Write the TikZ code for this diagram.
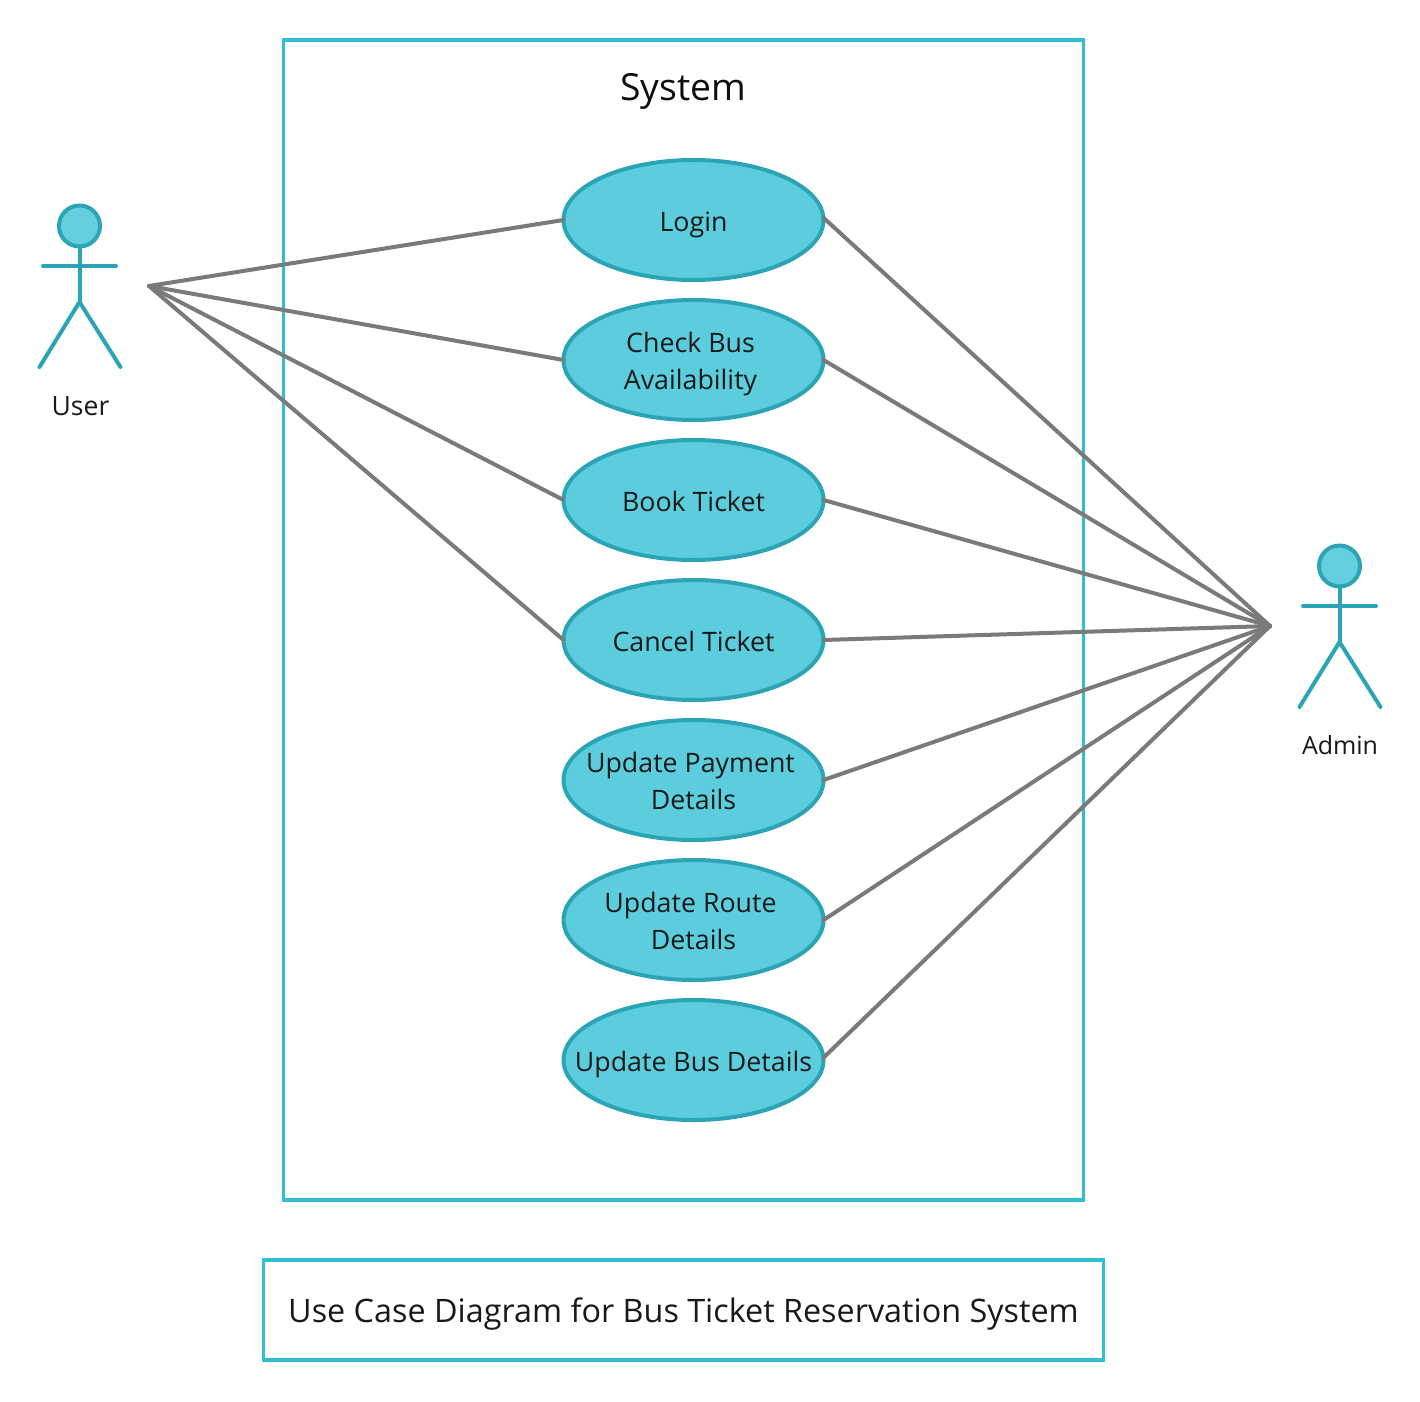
\documentclass[tikz,border=0pt]{standalone}
\usepackage{fontspec}
\setmainfont{Open Sans}
\usetikzlibrary{shapes.geometric}
\definecolor{tealline}{HTML}{2FBFD0}
\definecolor{ufill}{HTML}{5BCDDD}
\definecolor{ustroke}{HTML}{2BA5B5}
\definecolor{conn}{HTML}{7A7A7A}
\newcommand{\uctext}[1]{\makebox[0pt]{\raisebox{-8pt}[0pt][0pt]{\begin{tabular}{@{}c@{}}#1\end{tabular}}}}
\tikzset{x=0.0264583cm,y=-0.0264583cm,
 usecase/.style={ellipse,draw=ustroke,fill=ufill,line width=4*0.0264583cm,outer sep=0pt,minimum width=260*0.0264583cm,minimum height=120*0.0264583cm,inner sep=0pt,font=\fontsize{20.15}{27.75}\selectfont,text=black!90},
 conline/.style={draw=conn,line width=4*0.0264583cm,line cap=round},
 frame/.style={draw=tealline,line width=3.7*0.0264583cm,fill=none,inner sep=0pt,outer sep=0pt},
 actorline/.style={draw=ustroke,line width=4*0.0264583cm,line cap=round},
 head/.style={circle,draw=ustroke,fill=ufill!95!white,line width=4*0.0264583cm,minimum size=41*0.0264583cm,inner sep=0pt,outer sep=0pt},
 lbl/.style={font=\fontsize{20}{28}\selectfont,text=black!90}}
\begin{document}
\begin{tikzpicture}
\useasboundingbox (0,0) rectangle (1420,1401);
\node[frame,minimum width=800*0.0264583cm,minimum height=1160*0.0264583cm] (sys) at (683.5,620) {};
\node[font=\fontsize{28.1}{32}\selectfont,text=black!95] (systitle) at (683,91.5) {System};
\node[frame,minimum width=840*0.0264583cm,minimum height=100*0.0264583cm] (cap) at (683.5,1310) {};
\node[font=\fontsize{24.35}{30}\selectfont,text=black!90,anchor=base] (captext) at (683.5,1322) {Use Case Diagram for Bus Ticket Reservation System};
\coordinate (uh) at (149,286);
\coordinate (ah) at (1270,626);
\node[usecase] (u1) at (693.5,220) {\uctext{Login}};
\node[usecase] (u2) at (693.5,360) {\uctext{\hspace*{-4.5pt}Check Bus\\\hspace*{-4.5pt}Availability}};
\node[usecase] (u3) at (693.5,500) {\uctext{Book Ticket}};
\node[usecase] (u4) at (693.5,640) {\uctext{Cancel Ticket}};
\node[usecase] (u5) at (693.5,780) {\uctext{\hspace*{-4.5pt}Update Payment\\Details}};
\node[usecase] (u6) at (693.5,920) {\uctext{\hspace*{-4.5pt}Update Route\\Details}};
\node[usecase] (u7) at (693.5,1060) {\uctext{Update Bus Details}};
\foreach \n in {1,2,3,4} \draw[conline] (uh) -- (u\n.west);
\draw[conline] (u1.1.5) -- (ah);
\draw[conline] (u7.1) -- (ah);
\foreach \n in {2,...,6} \draw[conline] (u\n.east) -- (ah);
% user actor
\node[head] (uhead) at (79.5,226) {};
\coordinate (uneck) at (79.5,302);
\coordinate (ua1) at (43,266); \coordinate (ua2) at (116,266);
\coordinate (ul1) at (39.5,367); \coordinate (ul2) at (120.5,367);
\draw[actorline] (uhead) -- (uneck);
\draw[actorline] (ua1) -- (ua2);
\draw[actorline] (ul1) -- (uneck) -- (ul2);
\node[lbl,anchor=base] (ulabel) at (80.5,415) {User};
% admin actor
\node[head] (ahead) at (1339.5,566) {};
\coordinate (aneck) at (1339.5,642);
\coordinate (aa1) at (1303,606); \coordinate (aa2) at (1376,606);
\coordinate (al1) at (1299.5,707); \coordinate (al2) at (1380.5,707);
\draw[actorline] (ahead) -- (aneck);
\draw[actorline] (aa1) -- (aa2);
\draw[actorline] (al1) -- (aneck) -- (al2);
\node[lbl,font=\fontsize{18.8}{28}\selectfont,anchor=base] (alabel) at (1340,754) {Admin};
\end{tikzpicture}
\end{document}
